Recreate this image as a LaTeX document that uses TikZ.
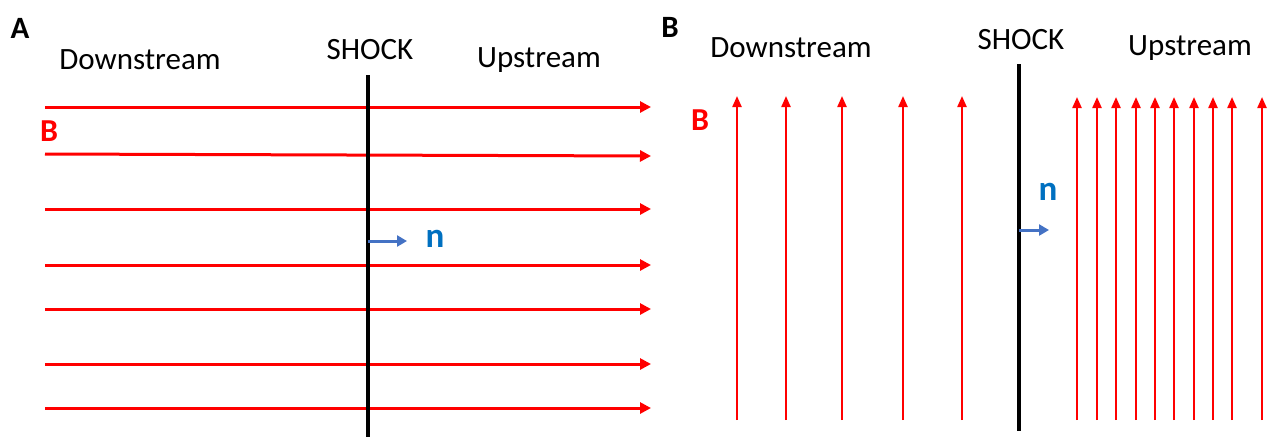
\documentclass[tikz,border=0pt]{standalone}
\usepackage{fontspec}
\setmainfont{Carlito}
\usetikzlibrary{arrows.meta}
\definecolor{nblue}{RGB}{0,112,192}
\definecolor{arrblue}{RGB}{68,114,196}
\tikzset{
  field/.style={draw=red, line width=3pt, -{Triangle[length=11pt,width=11pt]}},
  fieldv/.style={draw=red, line width=2.2pt, -{Triangle[length=11pt,width=9pt]}},
  shockline/.style={draw=black, line width=4.8pt},
  normal/.style={draw=arrblue, line width=3pt, -{Triangle[length=10pt,width=11pt]}},
  lbl/.style={font=\fontsize{31}{31}\selectfont, inner sep=0pt},
  panel/.style={font=\fontsize{31}{31}\selectfont\bfseries, inner sep=0pt},
  blab/.style={font=\fontsize{32}{32}\selectfont\bfseries, text=red, inner sep=0pt},
  nlab/.style={font=\fontsize{35}{35}\selectfont\bfseries, text=nblue, inner sep=0pt},
}
\begin{document}
\begin{tikzpicture}[x=1pt,y=-1pt]
\useasboundingbox (0,0) rectangle (1272,437);
% ---------- Panel A ----------
\node[panel] (pA) at (20,28) {A};
\node[lbl] (dA) at (140,60) {Downstream};
\node[lbl] (sA) at (370,50) {SHOCK};
\node[lbl] (uA) at (539,60) {Upstream};
\node[blab] (bA) at (49,131) {B};
\coordinate (shAt) at (368,75);
\coordinate (shAb) at (368,437);
\foreach \y/\yy [count=\i] in {107/107,154/156,209/209,265/265,309/309,364/364,408/408}{
  \coordinate (aL\i) at (45,\y);
  \coordinate (aR\i) at (651,\yy);
  \draw[field] (aL\i) -- (aR\i);
}
\draw[shockline] (shAt) -- (shAb);
\coordinate (nAs) at (368,241);
\coordinate (nAe) at (407,241);
\draw[normal] (nAs) -- (nAe);
\node[nlab] (nA) at (435,239) {n};
% ---------- Panel B ----------
\node[panel] (pB) at (670,27) {B};
\node[lbl] (dB) at (791,48) {Downstream};
\node[lbl] (sB) at (1021,40) {SHOCK};
\node[lbl] (uB) at (1190,48) {Upstream};
\node[blab] (bB) at (700,120) {B};
\foreach \x [count=\i] in {737,786,842,903,962}{
  \coordinate (vb\i) at (\x,420);
  \coordinate (vt\i) at (\x,96);
  \draw[fieldv] (vb\i) -- (vt\i);
}
\foreach \x [count=\i] in {1077,1097,1116,1136,1155,1174,1194,1213,1232,1262}{
  \coordinate (wb\i) at (\x,420);
  \coordinate (wt\i) at (\x,97);
  \draw[fieldv] (wb\i) -- (wt\i);
}
\coordinate (shBt) at (1019,64);
\coordinate (shBb) at (1019,431);
\draw[shockline] (shBt) -- (shBb);
\coordinate (nBs) at (1019,230);
\coordinate (nBe) at (1049,230);
\draw[normal] (nBs) -- (nBe);
\node[nlab] (nB) at (1048,192) {n};
\end{tikzpicture}
\end{document}
